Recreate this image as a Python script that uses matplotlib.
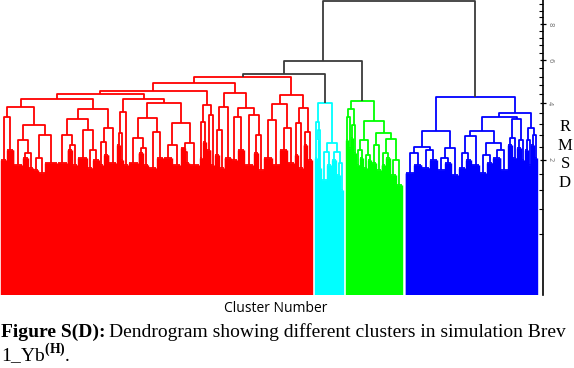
import numpy as np
import matplotlib
matplotlib.use("Agg")
import matplotlib.pyplot as plt
from matplotlib.collections import LineCollection

# dendrogram trees: [merge height, left, right]; (n leaves, height) = tight bush of leaves
RED = [5.18,
       [4.90,
        [4.53,
         [4.40,
          [4.19,
           [3.85, [3.45, (7, 1.99), (8, 2.29)],
                  [3.15, [2.62, (10, 1.84), [2.20, (6, 2.05), (6, 1.76)]],
                         [2.79, [2.05, (6, 1.70), (7, 1.62)], (14, 1.90)]]],
           [3.77, [3.38, [2.79, (11, 1.90), [2.45, (6, 2.29), (6, 1.84)]],
                         [2.97, (11, 2.05), [2.29, (6, 1.76), (7, 1.99)]]],
                  [3.04, [2.55, (5, 1.84), (6, 2.14)], (9, 1.90)]]],
          [4.19,
           [3.65, [2.86, (4, 2.45), (3, 1.99)], (6, 1.84)],
           [4.02, [3.41, [2.69, (11, 1.90), [2.35, (6, 2.20), (6, 1.84)]],
                         [2.90, (9, 1.76), (8, 2.05)]],
                  [3.22, [2.45, (10, 2.05), (9, 1.84)],
                         [2.52, [2.23, (5, 2.35), (5, 1.90)], (11, 1.84)]]]]],
         [3.93, [3.26, (4, 2.05), (4, 2.55)], [3.53, (5, 2.29), (4, 1.84)]]],
        [4.45,
         [3.85, [2.97, (6, 2.14), (5, 1.76)], (8, 2.05)],
         [3.81, [3.45, (7, 1.99), (8, 2.29)], [3.53, (10, 1.84), [2.79, (6, 2.20), (6, 1.70)]]]]],
       [4.36,
        [3.98, [3.34, (9, 2.05), (9, 1.84)], [3.04, (8, 2.29), (8, 1.90)]],
        [3.81, [3.22, (5, 2.14), (5, 1.76)], [2.90, (5, 2.45), (5, 1.99)]]]]

CYAN = [4.02,
        [3.26, (3, 2.05), [2.97, (2, 2.62), (3, 1.76)]],
        [2.52, [2.23, (6, 1.44), (5, 1.84)], [2.23, (6, 1.99), [1.90, (4, 1.57), (3, 1.20)]]]]

GREEN = [4.11,
         [3.77, [3.45, (3, 2.62), (3, 2.35)], [3.15, (3, 2.69), (3, 2.20)]],
         [3.30,
          [2.62, [2.29, (4, 1.84), (4, 2.05)], [2.14, (5, 1.76), (4, 1.99)]],
          [2.86,
           [2.45, (6, 1.90), (5, 1.70)],
           [2.65, [2.20, (5, 1.84), (5, 2.05)], [1.99, (7, 1.57), (7, 1.32)]]]]]

BLUE = [4.26,
        [2.93,
         [2.39, [2.20, (10, 1.62), (9, 1.84)], [2.29, (9, 1.76), (8, 1.99)]],
         [2.35, [2.05, (9, 1.70), (7, 1.90)], (8, 1.57)]],
        [3.61,
         [3.45,
          [2.93, [2.75, [2.20, (8, 1.76), (7, 1.99)], (9, 1.84)],
                 [2.52, [2.14, (8, 1.62), (7, 1.90)], [2.29, (9, 2.05), (8, 1.70)]]],
          [3.38, [2.69, (5, 2.45), (5, 2.05)], [2.62, (5, 2.35), (4, 1.99)]]],
         [3.04, [2.62, (4, 2.29), (3, 1.84)], [2.79, (4, 2.45), (3, 2.05)]]]]

CLUSTERS = ["red", "cyan", "green", "blue"]
TREES = [RED, CYAN, GREEN, BLUE]
COLORS = ["#ff0000", "#00ffff", "#00ff00", "#0000ff"]
# links above the colour threshold
TOP = [9.40, [5.98, [5.32, "red", "cyan"], "green"], "blue"]

GAP = 3


def draw_tree(node, start, leaves, links):
    if isinstance(node, tuple):
        n, h = node
        xs = start + np.arange(n)
        for x in xs:
            leaves.append([(x, 0), (x, h)])
        links.append([(xs[0], h), (xs[-1], h)])
        return xs.mean(), h, start + n
    h, left, right = node
    cl, hl, start = draw_tree(left, start, leaves, links)
    cr, hr, start = draw_tree(right, start, leaves, links)
    links.append([(cl, hl), (cl, h), (cr, h), (cr, hr)])
    return (cl + cr) / 2, h, start


def join(node, roots, links):
    if isinstance(node, str):
        return roots[node]
    h, left, right = node
    cl, hl = join(left, roots, links)
    cr, hr = join(right, roots, links)
    links.append([(cl, hl), (cl, h), (cr, h), (cr, hr)])
    return (cl + cr) / 2, h


W, H = 574, 368
fig = plt.figure(figsize=(W / 100, H / 100), dpi=100)
ax = fig.add_axes([0, 1 - 295 / H, 543 / W, 295 / H])
ax.set_yscale("function", functions=(lambda v: np.sqrt(np.clip(v, 0, None)), lambda s: s ** 2))

start = 0
roots = {}
for name, tree, color in zip(CLUSTERS, TREES, COLORS):
    leaves, links = [], []
    c, h, start = draw_tree(tree, start, leaves, links)
    roots[name] = (c, h)
    ax.add_collection(LineCollection(leaves, colors=color, linewidths=1.0))
    ax.add_collection(LineCollection(links, colors=color, linewidths=1.3))
    start += GAP
last = start - GAP - 1

top_links = []
join(TOP, roots, top_links)
ax.add_collection(LineCollection(top_links, colors="#3a3a3a", linewidths=1.3))

ax.set_xlim(-1.2, last + 7)
ax.set_ylim(0, 9.48)

for s in ["top", "left", "bottom"]:
    ax.spines[s].set_visible(False)
ax.spines["right"].set_linewidth(1.2)
ax.set_xticks([])
ax.yaxis.tick_right()
ax.set_yticks([2, 4, 6, 8])
ax.set_yticklabels(["2", "4", "6", "8"], rotation=-90, va="center")
ax.set_yticks([0.4 * k for k in range(1, 24) if k % 5], minor=True)
ax.tick_params(axis="y", which="major", direction="inout", length=5, width=0.9,
               labelsize=5, labelcolor="#777777", pad=0.5)
ax.tick_params(axis="y", which="minor", direction="in", length=3, width=0.8)

fig.text(276 / W, 1 - 308 / H, "Cluster Number", family="Open Sans", size=10,
         ha="center", va="center")
fig.text(565 / W, 1 - 155 / H, "R\nM\nS\nD", family="Liberation Serif", size=12,
         ha="center", va="center", linespacing=1.2)

plt.rcParams["mathtext.fontset"] = "custom"
plt.rcParams["mathtext.rm"] = "Liberation Serif"
plt.rcParams["mathtext.bf"] = "Liberation Serif:bold"

cap_size = 14
t1 = fig.text(1 / W, 1 - 337 / H, "Figure S(D):", family="Liberation Serif",
              weight="bold", size=cap_size, va="baseline")
fig.canvas.draw()
bb = t1.get_window_extent(fig.canvas.get_renderer())
fig.text(bb.x1 / W + 4 / W, 1 - 337 / H,
         "Dendrogram showing different clusters in simulation Brev",
         family="Liberation Serif", size=cap_size, va="baseline")
fig.text(1 / W, 1 - 362 / H, r"1_Yb$^{\mathbf{(H)}}$.", family="Liberation Serif",
         size=cap_size, va="baseline")

fig.savefig("out.png", dpi=100)
